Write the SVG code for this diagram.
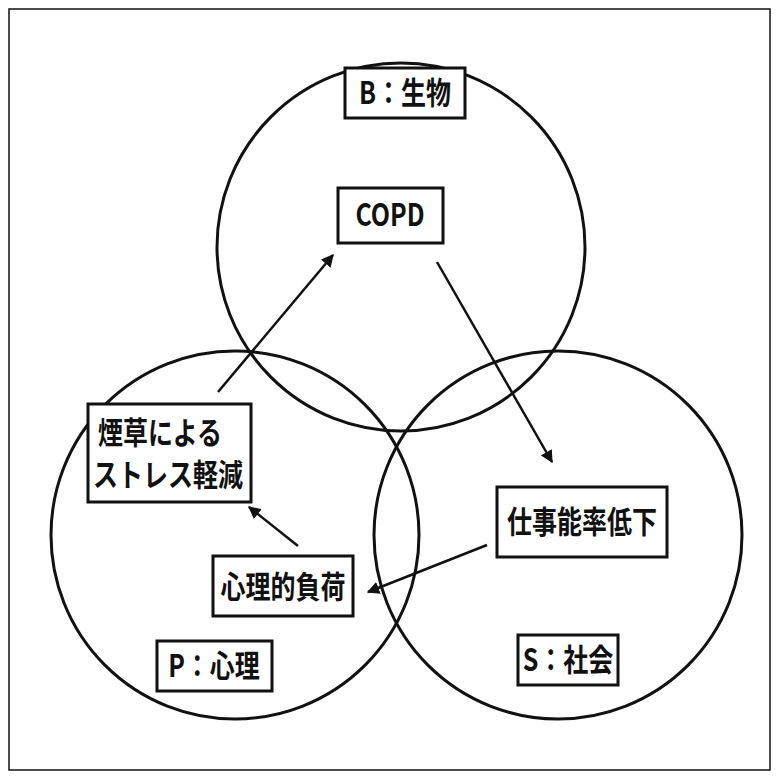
<svg xmlns="http://www.w3.org/2000/svg" width="780" height="780" viewBox="0 0 780 780">
<defs>
<style>
.c{fill:none;stroke:#111;stroke-width:3}
.b{fill:#fff;stroke:#111;stroke-width:3}
.t{font-family:"Noto Sans CJK JP","Liberation Sans",sans-serif;font-size:25px;font-weight:bold;fill:#111;text-anchor:middle}
.a{stroke:#111;stroke-width:2.5;fill:none;marker-end:url(#ah)}
</style>
<marker id="ah" viewBox="0 0 10 10" refX="9" refY="5" markerWidth="5" markerHeight="5" orient="auto"><path d="M0,0L10,5L0,10z" fill="#111"/></marker>
</defs>
<rect x="0" y="0" width="780" height="780" fill="#fff"/>
<rect x="9" y="9" width="761" height="761" fill="none" stroke="#111" stroke-width="1.5"/>
<g id="circles">
<circle class="c" cx="401" cy="247" r="184"/>
<circle class="c" cx="235" cy="535" r="184"/>
<circle class="c" cx="558" cy="535" r="184"/>
</g>
<g id="connectors">
<line class="a" x1="218" y1="392" x2="333" y2="255"/>
<line class="a" x1="437" y1="262" x2="552" y2="462"/>
<line class="a" x1="487" y1="545" x2="368" y2="592"/>
<line class="a" x1="298" y1="546" x2="249" y2="507"/>
</g>
<g id="bio"><rect class="b" x="345" y="68" width="120" height="50"/><text class="t" transform="translate(405,104) scale(1,1.25)">B：生物</text></g>
<g id="copd"><rect class="b" x="338" y="188" width="105" height="55"/><text class="t" transform="translate(390,226) scale(1,1.25)">COPD</text></g>
<g id="smoke"><rect class="b" x="88" y="404" width="163" height="98"/><text class="t" transform="translate(160,444) scale(1,1.25)">煙草による</text><text class="t" transform="translate(168,486) scale(1,1.25)">ストレス軽減</text></g>
<g id="work"><rect class="b" x="497" y="487" width="170" height="70"/><text class="t" transform="translate(582,533) scale(1,1.25)">仕事能率低下</text></g>
<g id="psych"><rect class="b" x="213" y="556" width="140" height="60"/><text class="t" transform="translate(283,598) scale(1,1.25)">心理的負荷</text></g>
<g id="p"><rect class="b" x="157" y="641" width="115" height="50"/><text class="t" transform="translate(214,677) scale(1,1.25)">P：心理</text></g>
<g id="s"><rect class="b" x="518" y="635" width="100" height="50"/><text class="t" transform="translate(568,671) scale(1,1.25)">S：社会</text></g>
</svg>
